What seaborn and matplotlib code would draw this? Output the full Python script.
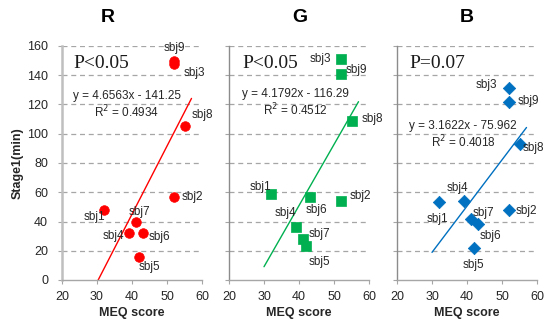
import matplotlib
matplotlib.use("Agg")
import matplotlib.pyplot as plt
import numpy as np
import pandas as pd
import seaborn as sns

# ---------------------------------------------------------------
# data
# ---------------------------------------------------------------
subjects = ["sbj1", "sbj2", "sbj3", "sbj4", "sbj5", "sbj6", "sbj7", "sbj8", "sbj9"]
meq_score = [32, 52, 52, 39, 42, 43, 41, 55, 52]

stage1_R = [48, 57, 148, 32, 16, 32, 40, 105, 150]
stage1_G = [59, 54, 151, 36, 23, 57, 28, 109, 141]
stage1_B = [53, 48, 131, 54, 22, 38, 42, 93, 122]

panel_names = ["R", "G", "B"]
p_texts = ["P<0.05", "P<0.05", "P=0.07"]
slopes = [4.6563, 4.1792, 3.1622]
intercepts = [-141.25, -116.29, -75.962]
r2_values = [0.4934, 0.4512, 0.4018]
trend_x = [30, 57]

x_ticks = [20, 30, 40, 50, 60]
y_ticks = [0, 20, 40, 60, 80, 100, 120, 140, 160]

# ---------------------------------------------------------------
# styling / layout
# ---------------------------------------------------------------
sns.set_style("white")
plt.rcParams['font.family'] = ['Liberation Sans', 'DejaVu Sans']

colors = ["#FF0000", "#00B050", "#0070C0"]
markers = ["o", "s", "D"]
marker_sizes = [48, 52, 40]
axis_gray = "#A6A6A6"

# label offsets in pixels (dx, dy up)
label_offsets = [
    {"sbj1": (-10, -7), "sbj2": (18, 0), "sbj3": (20, -9), "sbj4": (-15, -3), "sbj5": (10, -10),
     "sbj6": (17, -4), "sbj7": (4, 9), "sbj8": (18, 11), "sbj9": (0, 13)},
    {"sbj1": (-11, 7), "sbj2": (19, 5), "sbj3": (-21, 0), "sbj4": (-10, 14), "sbj5": (13, -16),
     "sbj6": (7, -13), "sbj7": (17, 5), "sbj8": (21, 2), "sbj9": (15, 4)},
    {"sbj1": (-2, -17), "sbj2": (17, -1), "sbj3": (-23, 3), "sbj4": (-6, 13), "sbj5": (-1, -17),
     "sbj6": (13, -12), "sbj7": (13, 6), "sbj8": (14, -4), "sbj9": (19, 1)},
]

W, H = 546, 324
fig = plt.figure(figsize=(W / 100, H / 100), dpi=100)

axes_left_px = [62, 229, 397]
title_x_px = [108, 300, 467]
p_pos_px = [(73, 63), (242, 63), (409, 63)]
eq_pos_px = [(127, 96), (295, 94), (463, 126)]
ax_w_px, ax_top_px, ax_bot_px = 140, 46, 280

df = pd.DataFrame({"subject": subjects, "MEQ": meq_score,
                   "R": stage1_R, "G": stage1_G, "B": stage1_B})

for i, name in enumerate(panel_names):
    ax = fig.add_axes([axes_left_px[i] / W, 1 - ax_bot_px / H,
                       ax_w_px / W, (ax_bot_px - ax_top_px) / H])

    # horizontal dashed gridlines
    for yv in y_ticks[1:]:
        ax.axhline(yv, color=axis_gray, lw=0.9, ls=(0, (4, 3)), zorder=0)

    # trendline
    tx = np.array(trend_x, dtype=float)
    ax.plot(tx, slopes[i] * tx + intercepts[i], color=colors[i], lw=1.0, zorder=2)

    sns.scatterplot(data=df, x="MEQ", y=name, ax=ax, color=colors[i], marker=markers[i],
                    s=marker_sizes[i], edgecolor=colors[i], linewidth=0.5, zorder=3, legend=False)

    for subj, xv, yv in zip(df["subject"], df["MEQ"], df[name]):
        dx, dy = label_offsets[i][subj]
        ax.annotate(subj, (xv, yv), xytext=(dx, dy), textcoords="offset pixels",
                    ha="center", va="center", fontsize=8.5, color="#262626", zorder=4)

    ax.set_xlim(20, 60)
    ax.set_ylim(0, 160)
    ax.set_xticks(x_ticks)
    ax.set_yticks(y_ticks)
    ax.set_xlabel("")
    ax.set_ylabel("")
    for side in ["top", "right"]:
        ax.spines[side].set_visible(False)
    ax.spines["left"].set_color("#BFBFBF" if i == 0 else "#8C8C8C")
    ax.spines["left"].set_linewidth(1.8 if i == 0 else 1.0)
    ax.spines["bottom"].set_color(axis_gray)
    ax.spines["bottom"].set_linewidth(1.0)
    ax.tick_params(axis="both", direction="out", length=3, width=0.8, color=axis_gray,
                   labelsize=9, labelcolor="#262626")
    ax.tick_params(axis="x", pad=5, bottom=True)
    ax.tick_params(axis="y", pad=7, left=True)
    if i > 0:
        ax.set_yticklabels([])
    ax.set_clip_on(False)

    # P value text
    px, py = p_pos_px[i]
    fig.text(px / W, 1 - py / H, p_texts[i], family="Liberation Serif", fontsize=14,
             ha="left", va="center", color="#1a1a1a")
    # equation
    ex, ey = eq_pos_px[i]
    sign = "-" if intercepts[i] < 0 else "+"
    fig.text(ex / W, 1 - ey / H, f"y = {slopes[i]:.4f}x {sign} {abs(intercepts[i]):g}",
             fontsize=8.5, ha="center", va="center", color="#262626")
    fig.text(ex / W, 1 - (ey + 16) / H, f"R$^2$ = {r2_values[i]:.4f}",
             fontsize=8.5, ha="center", va="center", color="#262626")

    # panel title and x label
    fig.text(title_x_px[i] / W, 1 - 17 / H, name, fontsize=14, fontweight="bold",
             ha="center", va="center", color="black")
    fig.text((axes_left_px[i] + ax_w_px / 2) / W, 1 - 313 / H, "MEQ score", fontsize=9,
             fontweight="bold", ha="center", va="center", color="#262626")

fig.text(18 / W, 1 - 163 / H, "Stage1(min)", fontsize=9, fontweight="bold", rotation=90,
         ha="center", va="center", color="#262626")

fig.savefig("out.png", dpi=100, facecolor="white")
